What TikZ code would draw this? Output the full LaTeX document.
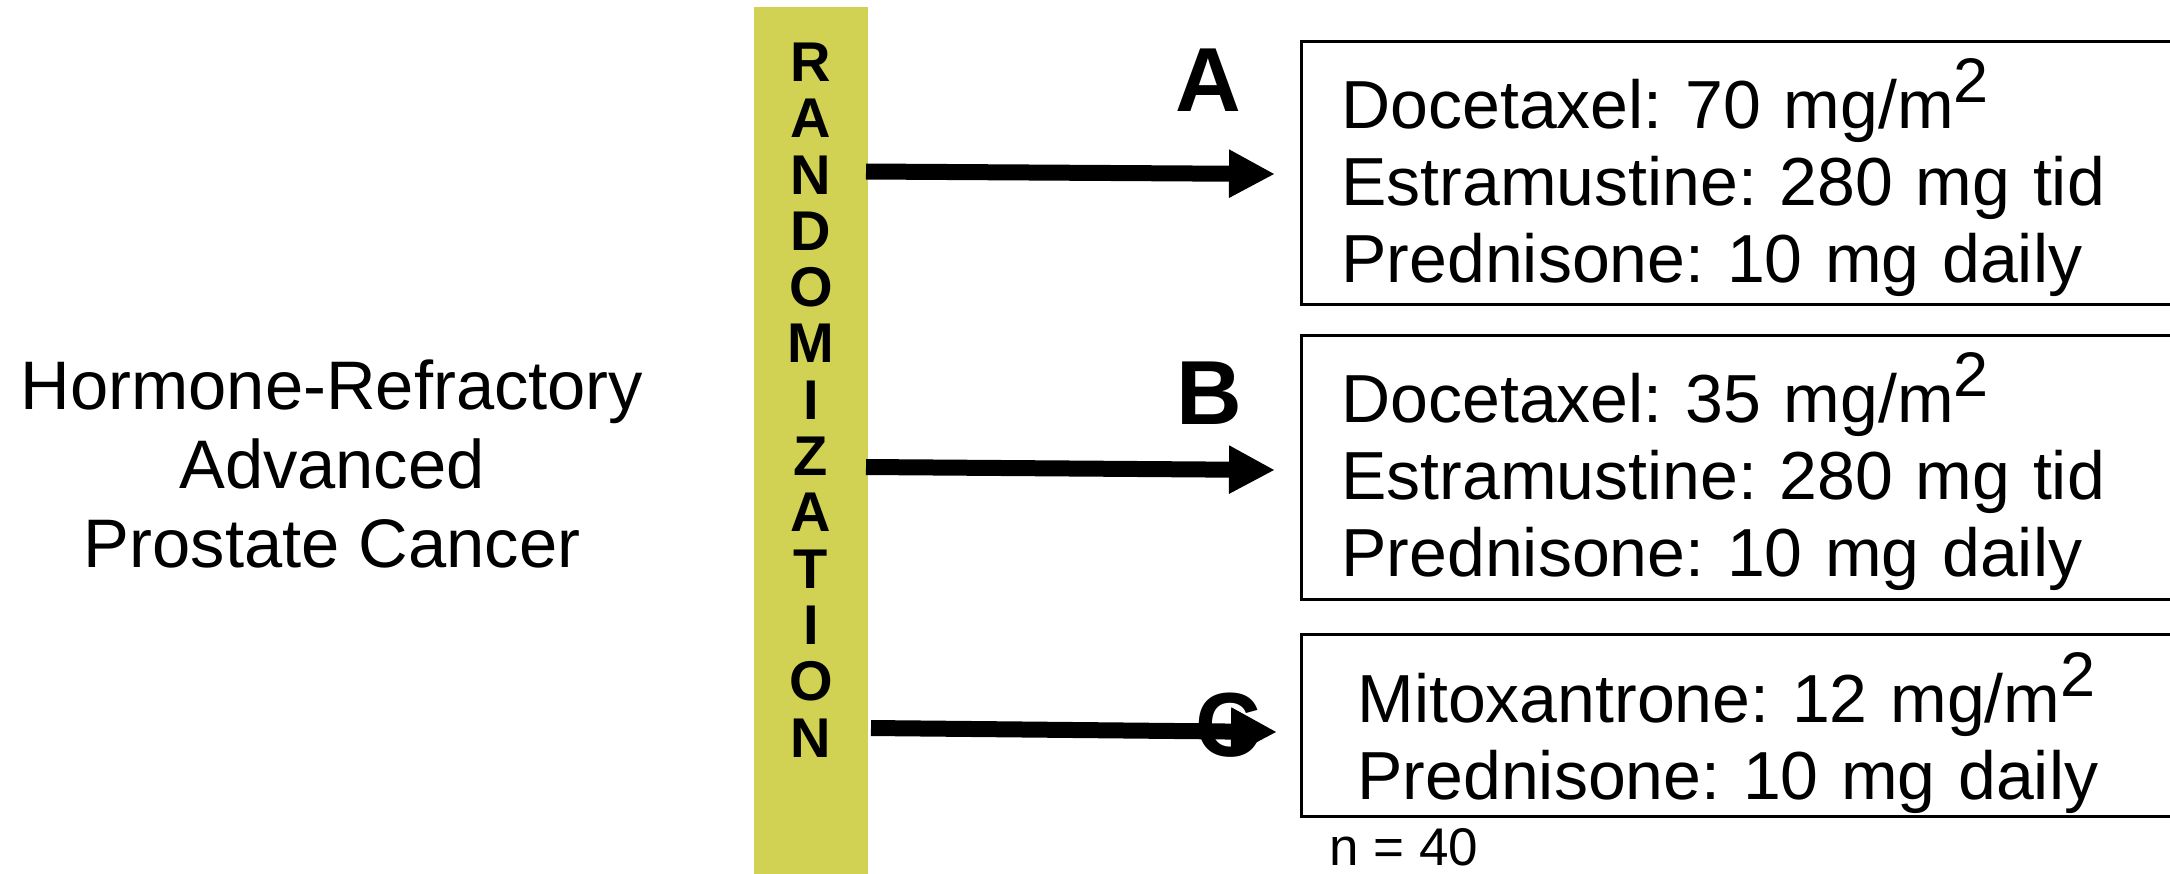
\documentclass[tikz,border=0pt]{standalone}
\usepackage{fontspec}
\setmainfont{Liberation Sans}
\usetikzlibrary{arrows.meta}
\definecolor{barcol}{RGB}{209,209,83}
\newcommand\supTwo{\raisebox{26pt}{\fontsize{63}{63}\selectfont 2}}
\begin{document}
\frenchspacing
\begin{tikzpicture}[x=1pt,y=-1pt,
  treat/.style={draw=black, line width=3pt, anchor=west, align=left,
    text width=820pt, inner xsep=40pt, inner ysep=0pt,
    font=\frenchspacing\fontsize{68}{77}\selectfont},
  arm/.style={font=\bfseries\fontsize{91}{91}\selectfont, inner sep=0pt},
  arr/.style={line width=16pt, -{Triangle[width=45pt,length=46pt]}},
]
\useasboundingbox (0,0) rectangle (2170,873);
\clip (0,0) rectangle (2170,873);

% condition
\node[font=\fontsize{68.7}{79}\selectfont, align=center, inner sep=0pt] (cond) at (332,464)
  {Hormone-Refractory\\Advanced\\Prostate Cancer};

% randomization bar
\node[fill=barcol, draw=none, minimum width=114pt, minimum height=870pt, inner sep=0pt] (bar) at (811,442) {};
\node[font=\bfseries\fontsize{56}{56.3}\selectfont, align=center, inner sep=0pt] (rtext) at (811,400)
  {R\\A\\N\\D\\O\\M\\I\\Z\\A\\T\\I\\O\\N};

% treatment boxes
\node[treat, minimum height=263pt] (boxA) at (1300,172.5)
  {\rule{0pt}{80pt}Docetaxel: 70 mg/m\supTwo\\Estramustine: 280 mg tid\\Prednisone: 10 mg daily};
\node[treat, minimum height=264pt] (boxB) at (1300,467)
  {\rule{0pt}{80pt}Docetaxel: 35 mg/m\supTwo\\Estramustine: 280 mg tid\\Prednisone: 10 mg daily};
\node[treat, minimum height=182pt, inner xsep=56pt, text width=790pt] (boxC) at (1300,725)
  {\rule{0pt}{86pt}Mitoxantrone: 12 mg/m\supTwo\\Prednisone: 10 mg daily};
\node[font=\fontsize{53}{53}\selectfont, anchor=base west, inner sep=0pt] (nlab) at (1329,865) {n = 40};

% arm labels
\node[arm] (lA) at (1208,80) {A};
\node[arm] (lB) at (1209,393) {B};
\node[arm] (lC) at (1228,725) {C};

% arrows
\coordinate (sA) at (866,171.5);
\coordinate (eA) at (1275,174);
\coordinate (sB) at (866,467);
\coordinate (eB) at (1275,470);
\coordinate (sC) at (871,728);
\coordinate (eC) at (1277,732);
\draw[arr] (sA) -- (eA);
\draw[arr] (sB) -- (eB);
\draw[arr] (sC) -- (eC);
\end{tikzpicture}
\end{document}
